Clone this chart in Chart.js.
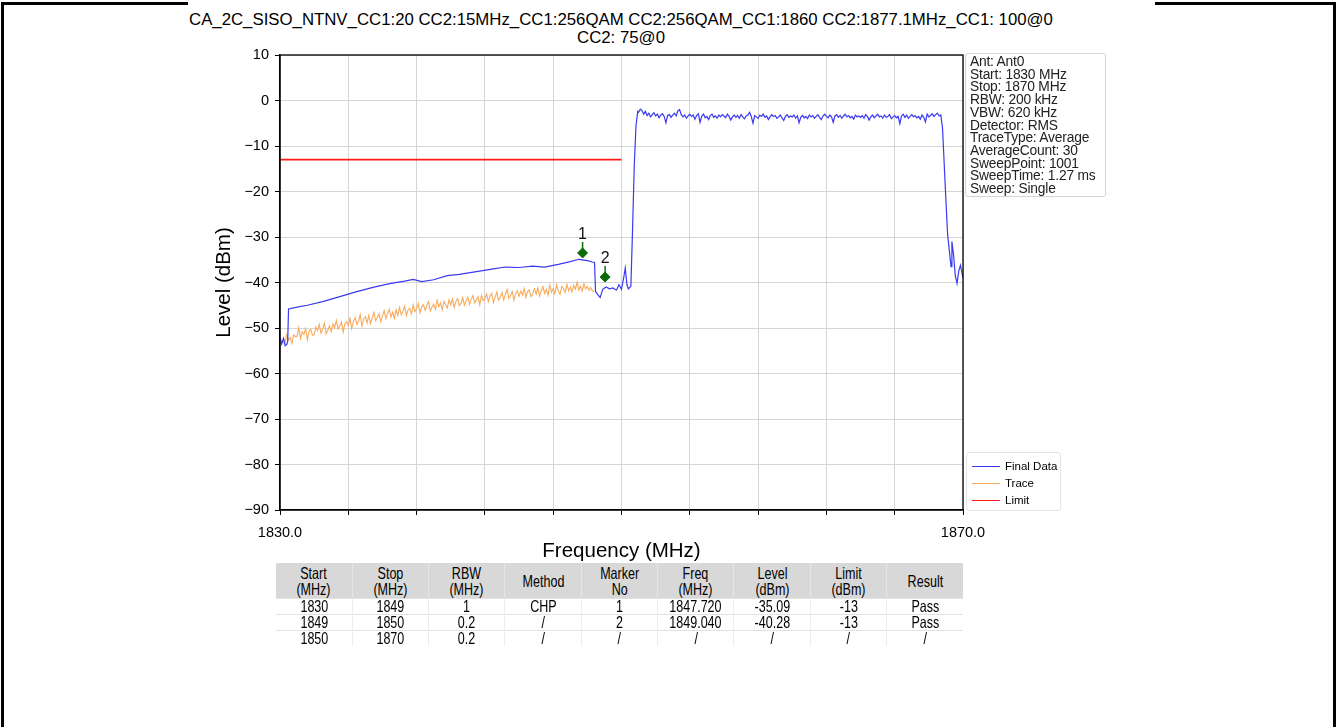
<!DOCTYPE html>
<html>
<head>
<meta charset="utf-8">
<script src="https://cdn.jsdelivr.net/npm/chart.js@4.4.1/dist/chart.umd.min.js"></script>
<style>
html,body{margin:0;padding:0;background:#fff;}
body{width:1338px;height:727px;position:relative;overflow:hidden;font-family:"Liberation Sans",Arial,sans-serif;color:#000;}
#frame{position:absolute;left:1px;top:2px;width:1329px;height:740px;border:3px solid #000;border-bottom:none;}
#sheet{position:absolute;left:188px;top:0;width:967px;height:665px;background:#fff;}
#title{position:absolute;left:188px;width:866px;top:11px;text-align:center;font-size:16.8px;line-height:18px;}
#chart{position:absolute;left:0;top:0;}
#info{position:absolute;left:965px;top:53px;width:132px;height:138px;border:1px solid #d4d4d4;border-radius:3px;padding:2px 3px 2px 4px;font-size:13.8px;line-height:12.7px;white-space:pre;color:#222;letter-spacing:-0.2px;}
#legend{position:absolute;left:966px;top:452px;width:93px;height:57px;border:1px solid #e4e4e4;border-radius:3px;font-size:11.5px;}
#legend .item{position:absolute;left:5px;height:12px;line-height:12px;}
#legend .swatch{position:absolute;left:0;top:6px;width:28px;height:0;border-top:1.5px solid;}
#legend .txt{position:absolute;left:33px;top:0;white-space:nowrap;}
#table{position:absolute;left:276px;top:563px;width:687px;table-layout:fixed;border-collapse:collapse;font-size:16.5px;}
#table th{background:#d8d8d8;font-weight:normal;line-height:16px;height:35px;padding:0;text-align:center;border-left:1px solid #e6e6e6;}
#table td{line-height:15px;height:15px;padding:0;text-align:center;border-top:1px solid #e2e2e2;border-left:1px solid #ececec;}
#table tr > *:first-child{border-left:none;}
#table span{display:inline-block;transform:scaleX(0.76);white-space:nowrap;}
</style>
</head>
<body>
<div id="frame"></div>
<div id="sheet"></div>
<div id="title">CA_2C_SISO_NTNV_CC1:20 CC2:15MHz_CC1:256QAM CC2:256QAM_CC1:1860 CC2:1877.1MHz_CC1: 100@0<br>CC2: 75@0</div>
<canvas id="chart" width="1338" height="727"></canvas>
<div id="info"></div>
<div id="legend"></div>
<table id="table"></table>
<script>
// axis ranges and ticks
const xMin = 1830, xMax = 1870;
const yMin = -90, yMax = 10;
const xTickValues = [1830,1834,1838,1842,1846,1850,1854,1858,1862,1866,1870];
const xTickLabels = {1830:'1830.0', 1870:'1870.0'};
const yTickValues = [10,0,-10,-20,-30,-40,-50,-60,-70,-80,-90];

// Final Data: low band edge part (MHz / dBm)
const finalRiseFreq = [1830.0,1830.1,1830.2,1830.3,1830.4,1830.45,1830.5,1831.0,1831.6,1832.5,1833.6,1834.5,1835.5,1836.5,1837.3,1837.8,1838.3,1839.0,1839.8,1840.5,1841.5,1842.5,1843.2,1844.0,1844.8,1845.5,1846.3,1847.0,1847.5,1848.0,1848.3,1848.42,1848.48,1848.6,1848.75,1848.9,1849.1,1849.3,1849.5,1849.7,1849.85,1850.0,1850.15,1850.22,1850.32,1850.4,1850.55,1850.65,1850.75,1850.85,1850.95];
const finalRiseLevel = [-52.0,-53.5,-52.3,-53.9,-53.6,-53.0,-45.8,-45.4,-45.0,-44.2,-43.0,-42.0,-41.0,-40.2,-39.7,-39.3,-39.8,-39.4,-38.5,-38.2,-37.6,-37.0,-36.6,-36.7,-36.4,-36.6,-36.0,-35.4,-34.9,-35.2,-35.5,-35.6,-42.0,-42.6,-43.3,-41.5,-41.0,-41.4,-41.2,-41.7,-40.5,-41.5,-38.5,-36.8,-40.5,-41.4,-40.8,-28.0,-14.0,-5.5,-2.4];

// Final Data: in-band plateau, 0.1 MHz steps from 1851.0
const finalFlatStart = 1851.0, finalFlatStep = 0.1;
const finalFlatLevel = [
  -2.6,-1.9,-2.2,-3.0,-2.4,-3.3,-2.8,-3.6,-3.1,-2.7,
  -3.4,-3.0,-3.8,-3.2,-2.9,-3.5,-4.9,-3.3,-3.1,-3.7,
  -3.2,-2.8,-3.4,-2.3,-2.0,-3.1,-3.6,-3.2,-3.9,-3.4,
  -3.0,-3.5,-3.2,-4.1,-3.3,-2.9,-4.8,-3.4,-3.0,-3.8,
  -3.5,-4.2,-3.3,-3.0,-3.7,-3.4,-3.9,-3.2,-3.6,-3.1,
  -3.4,-3.8,-3.0,-3.5,-4.3,-3.6,-3.2,-3.7,-3.3,-3.9,
  -3.1,-3.6,-4.0,-3.4,-3.2,-2.6,-3.5,-5.0,-3.3,-3.6,
  -3.9,-3.2,-3.5,-3.0,-3.7,-3.4,-4.2,-3.6,-3.1,-3.5,
  -3.3,-3.9,-3.6,-3.2,-3.8,-4.4,-3.5,-3.1,-3.7,-3.4,
  -3.6,-3.2,-3.9,-3.4,-4.9,-3.7,-3.3,-3.8,-3.5,-4.0,
  -3.2,-3.6,-3.3,-3.9,-3.5,-3.1,-3.7,-4.2,-3.4,-3.0,
  -3.5,-3.8,-3.2,-3.6,-4.8,-3.4,-3.1,-3.7,-3.3,-3.9,
  -3.4,-3.0,-3.6,-3.3,-3.8,-3.5,-4.1,-3.2,-3.6,-3.4,
  -3.7,-3.3,-3.9,-3.1,-3.5,-4.3,-3.6,-3.2,-3.8,-3.4,
  -3.0,-3.6,-3.4,-3.9,-3.2,-3.7,-3.5,-3.1,-4.0,-3.6,
  -3.3,-3.8,-3.5,-5.1,-3.4,-3.0,-3.7,-3.2,-3.9,-3.5,
  -3.1,-3.6,-3.3,-3.8,-3.5,-4.1,-3.2,-3.7,-4.7,-3.0,
  -3.6,-3.3,-2.9,-3.5,-3.1,-2.8,-3.4
];

// Final Data: upper band edge part
const finalFallFreq = [1868.7,1868.8,1868.9,1869.0,1869.1,1869.2,1869.3,1869.35,1869.45,1869.55,1869.65,1869.75,1869.85,1870.0];
const finalFallLevel = [-3.2,-6.0,-14.0,-22.0,-29.5,-33.0,-36.5,-31.0,-34.0,-38.5,-40.2,-37.5,-36.2,-39.0];

// Trace: 0.1 MHz steps from 1830.2 to 1848.4
const traceStart = 1830.2, traceStep = 0.1;
const traceLevel = [
  -52.0,-53.2,-51.4,-52.6,-52.1,-53.4,-51.5,-51.9,
  -51.8,-49.9,-52.3,-50.8,-51.4,-50.1,-52.6,-50.7,-50.3,-51.6,
  -51.5,-49.8,-50.6,-49.2,-51.1,-50.2,-48.9,-51.3,-50.5,-49.5,
  -50.8,-49.1,-49.9,-48.3,-50.2,-49.6,-48.7,-50.9,-49.0,-48.6,
  -49.4,-47.9,-50.1,-48.6,-47.7,-49.2,-48.5,-47.1,-49.6,-48.0,
  -47.5,-48.9,-47.2,-49.0,-47.8,-46.6,-48.4,-47.7,-46.9,-48.6,
  -47.4,-46.2,-48.0,-46.8,-45.9,-47.6,-46.5,-47.9,-46.0,-47.2,
  -45.5,-47.1,-46.4,-45.2,-47.3,-46.0,-45.7,-46.9,-44.9,-46.4,
  -45.8,-44.6,-46.7,-45.3,-44.9,-46.1,-45.0,-44.2,-46.3,-45.4,
  -44.8,-45.9,-43.9,-45.3,-44.5,-46.0,-44.1,-44.9,-45.6,-43.8,
  -44.9,-43.6,-45.5,-44.2,-43.5,-45.1,-44.6,-43.3,-45.0,-44.0,
  -43.2,-44.8,-43.7,-42.9,-44.5,-43.8,-43.1,-44.9,-42.8,-44.0,
  -43.6,-42.5,-44.2,-43.0,-42.4,-44.4,-43.2,-42.1,-43.9,-43.3,
  -42.2,-43.8,-42.6,-41.5,-43.5,-42.9,-42.0,-43.9,-42.4,-41.8,
  -43.0,-41.9,-42.7,-41.3,-43.3,-42.0,-41.6,-43.1,-42.5,-41.4,
  -42.6,-41.2,-43.0,-41.8,-40.9,-42.4,-41.5,-42.8,-40.6,-42.1,
  -41.4,-42.5,-40.5,-41.9,-42.6,-40.9,-41.3,-42.2,-40.4,-41.8,
  -41.0,-42.1,-40.6,-41.5,-39.9,-41.7,-40.8,-41.9,-40.3,-41.4,
  -40.9,-41.7,-41.1,-41.9,-42.0
];

// Limit line
const limitFreq = [1830, 1850];
const limitLevel = [-13, -13];

// Markers as drawn
const markerFreq = [1847.72, 1849.04];
const markerLevel = [-33.5, -38.8];
const markerNames = ['1', '2'];

// Info box and result table
const infoLines = ['Ant: Ant0','Start: 1830 MHz','Stop: 1870 MHz','RBW: 200 kHz','VBW: 620 kHz','Detector: RMS','TraceType: Average','AverageCount: 30','SweepPoint: 1001','SweepTime: 1.27 ms','Sweep: Single'];
const tableHeader = ['Start<br>(MHz)','Stop<br>(MHz)','RBW<br>(MHz)','Method','Marker<br>No','Freq<br>(MHz)','Level<br>(dBm)','Limit<br>(dBm)','Result'];
const tableRows = [
  ['1830','1849','1','CHP','1','1847.720','-35.09','-13','Pass'],
  ['1849','1850','0.2','/','2','1849.040','-40.28','-13','Pass'],
  ['1850','1870','0.2','/','/','/','/','/','/']
];

// build point lists
const finalData = [];
finalRiseFreq.forEach((f,i)=>finalData.push({x:f, y:finalRiseLevel[i]}));
finalFlatLevel.forEach((v,i)=>finalData.push({x:+(finalFlatStart + i*finalFlatStep).toFixed(2), y:v}));
finalFallFreq.forEach((f,i)=>finalData.push({x:f, y:finalFallLevel[i]}));
const traceData = traceLevel.map((v,i)=>({x:+(traceStart + i*traceStep).toFixed(2), y:v}));
const limitData = limitFreq.map((f,i)=>({x:f, y:limitLevel[i]}));
const markerData = markerFreq.map((f,i)=>({x:f, y:markerLevel[i]}));

// plot box with all four spines
const spines = {
  id:'spines',
  afterDatasetsDraw(chart){
    const {ctx, chartArea:a} = chart;
    ctx.save(); ctx.strokeStyle = '#000'; ctx.lineWidth = 1.3;
    ctx.strokeRect(a.left, a.top, a.right - a.left, a.bottom - a.top);
    ctx.restore();
  }
};
// marker numbers above the diamonds
const markerText = {
  id:'markerText',
  afterDatasetsDraw(chart){
    const ctx = chart.ctx;
    const meta = chart.getDatasetMeta(3);
    ctx.save();
    ctx.font = '16px "Liberation Sans", Arial, sans-serif';
    ctx.fillStyle = '#111'; ctx.textAlign = 'center'; ctx.textBaseline = 'bottom';
    ctx.strokeStyle = '#0b6b0b'; ctx.lineWidth = 1.5;
    meta.data.forEach((pt,i)=>{
      ctx.beginPath(); ctx.moveTo(pt.x, pt.y - 11); ctx.lineTo(pt.x, pt.y); ctx.stroke();
      ctx.fillText(markerNames[i], pt.x, pt.y - 10);
    });
    ctx.restore();
  }
};

const fontFam = '"Liberation Sans", Arial, sans-serif';
const chart = new Chart(document.getElementById('chart'), {
  type:'line',
  data:{datasets:[
    {label:'Final Data', data:finalData, borderColor:'#3a3af2', borderWidth:1.2, pointRadius:0, tension:0},
    {label:'Trace', data:traceData, borderColor:'#f9aa5c', borderWidth:1.1, pointRadius:0, tension:0},
    {label:'Limit', data:limitData, borderColor:'#ff1a1a', borderWidth:1.7, pointRadius:0},
    {label:'Markers', data:markerData, showLine:false, pointStyle:'rectRot', pointRadius:5, pointBackgroundColor:'#0b6b0b', pointBorderColor:'#0b6b0b'}
  ]},
  options:{
    responsive:false, animation:false, events:[],
    layout:{padding:{left:206, right:375, top:55, bottom:162}},
    plugins:{legend:{display:false}, tooltip:{enabled:false}},
    scales:{
      x:{type:'linear', min:xMin, max:xMax,
        afterBuildTicks:s=>{ s.ticks = xTickValues.map(v=>({value:v})); },
        afterFit:s=>{ s.height = 55; },
        ticks:{autoSkip:false, maxRotation:0, padding:9, color:'#000', font:{family:fontFam, size:14.5},
          callback:v=>xTickLabels[v] || ''},
        grid:{color:'#d6d6d6', borderDash:[3,3], tickLength:5, tickColor:'#000', tickBorderDash:[], tickWidth:1},
        border:{display:true, color:'#000', width:1.3},
        title:{display:true, text:'Frequency (MHz)', color:'#000', font:{family:fontFam, size:20.5}, padding:{top:2, bottom:1}}
      },
      y:{min:yMin, max:yMax,
        afterBuildTicks:s=>{ s.ticks = yTickValues.map(v=>({value:v})); },
        afterFit:s=>{ s.width = 280 - 206; },
        ticks:{padding:6, color:'#000', font:{family:fontFam, size:14.5},
          callback:v=> v < 0 ? '\u2212' + Math.abs(v) : String(v)},
        grid:{color:'#d6d6d6', borderDash:[3,3], tickLength:5, tickColor:'#000', tickBorderDash:[], tickWidth:1},
        border:{display:true, color:'#000', width:1.3},
        title:{display:true, text:'Level (dBm)', color:'#000', font:{family:fontFam, size:20.5}, padding:{top:6, bottom:2}}
      }
    }
  },
  plugins:[spines, markerText]
});

// info box
document.getElementById('info').textContent = infoLines.join('\n');

// legend from the chart datasets
const legendEl = document.getElementById('legend');
chart.data.datasets.filter(ds=>ds.label !== 'Markers').forEach((ds,i)=>{
  const item = document.createElement('div');
  item.className = 'item';
  item.style.top = (7 + i*17) + 'px';
  item.innerHTML = '<span class="swatch" style="border-color:' + ds.borderColor + '"></span><span class="txt">' + ds.label + '</span>';
  legendEl.appendChild(item);
});

// result table
const tbl = document.getElementById('table');
let html = '<tr>' + tableHeader.map(h=>'<th><span>' + h + '</span></th>').join('') + '</tr>';
tableRows.forEach(r=>{ html += '<tr>' + r.map(c=>'<td><span>' + c + '</span></td>').join('') + '</tr>'; });
tbl.innerHTML = html;
</script>
</body>
</html>
